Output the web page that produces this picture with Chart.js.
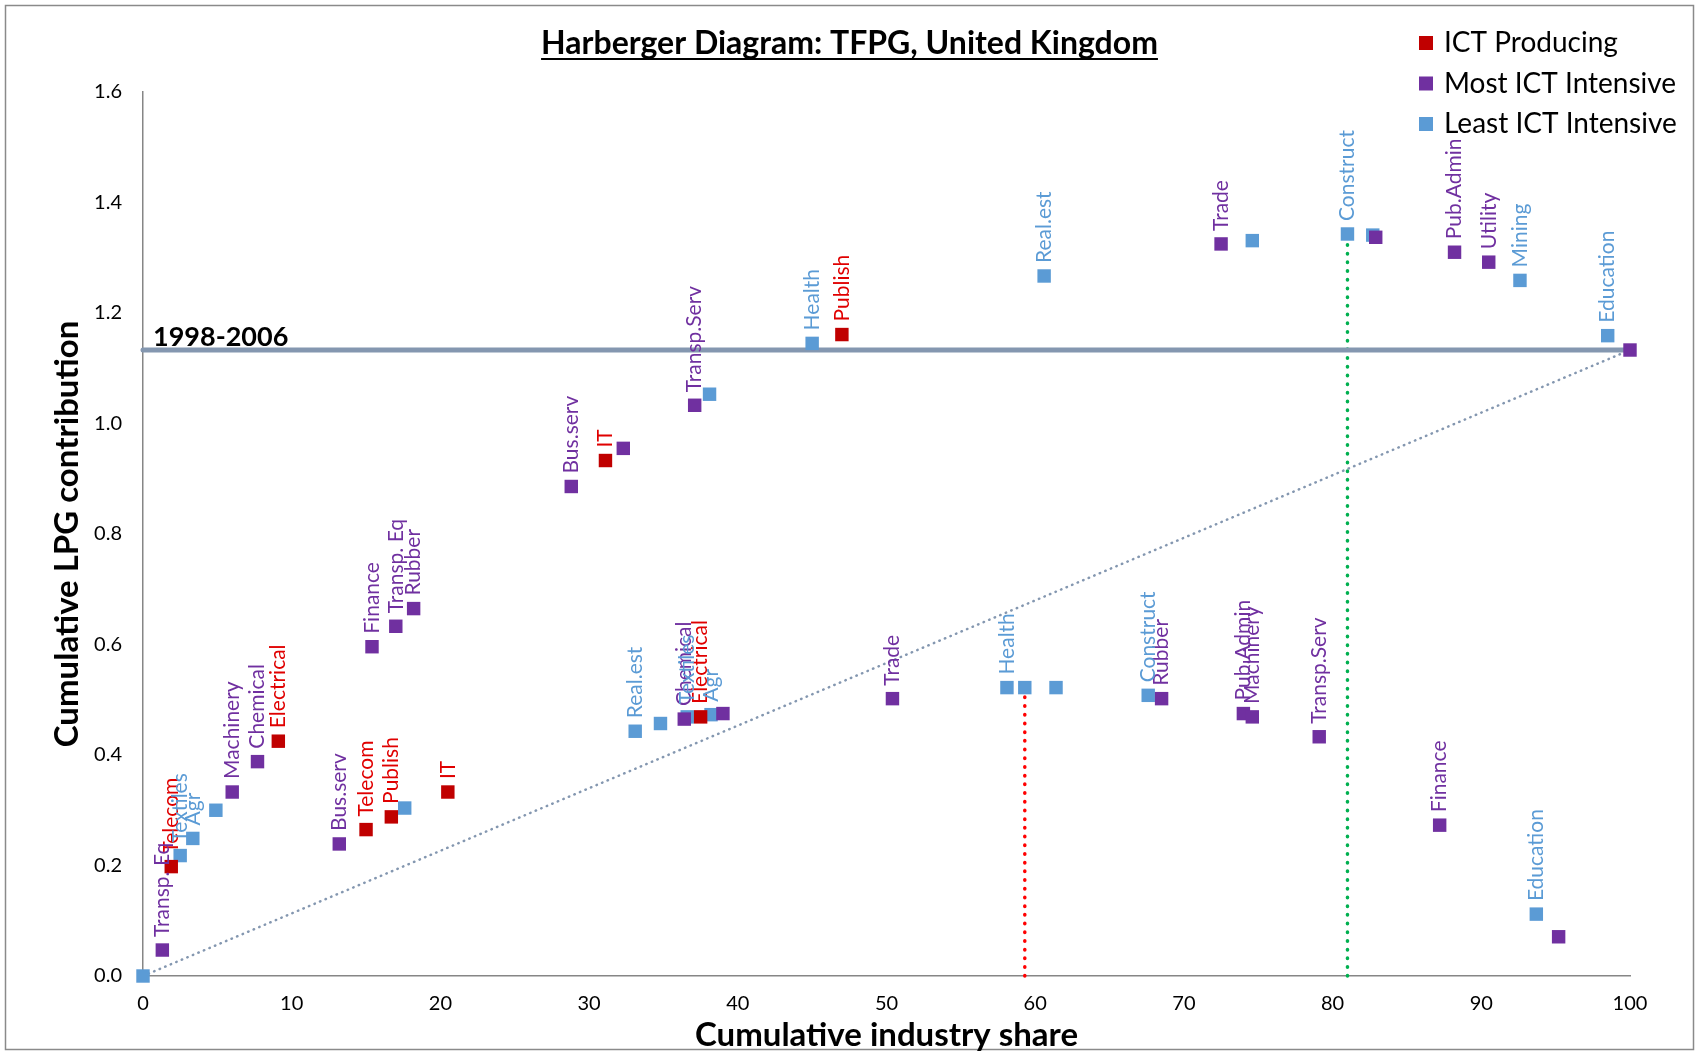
<!DOCTYPE html>
<html>
<head>
<meta charset="utf-8">
<title>Harberger Diagram: TFPG, United Kingdom</title>
<script src="https://cdn.jsdelivr.net/npm/chart.js@4.4.1/dist/chart.umd.min.js"></script>
<style>
  html, body { margin: 0; padding: 0; background: #fff; }
  #wrap { width: 1699px; height: 1055px; }
</style>
</head>
<body>
<div id="wrap"><canvas id="harberger" width="1699" height="1055"></canvas></div>
<script>
// groups: 0 = ICT producing, 1 = most ICT intensive, 2 = least ICT intensive
const groupNames = ["ICT Producing", "Most ICT Intensive", "Least ICT Intensive"];
const groupColors = ["#C00000", "#7030A0", "#5B9BD5"];
const labelColors = ["#E00000", "#7030A0", "#5B9BD5"];

const industries = [
    "", "Transp. Eq", "Telecom", "Textiles", "Agr", "", "Machinery", "Chemical", "Electrical",
    "Bus.serv", "Telecom", "Finance", "Publish", "Transp. Eq", "", "Rubber", "IT",
    "Bus.serv", "IT", "", "Real.est", "", "Chemical", "Textiles", "Electrical", "Agr", "",
    "Transp.Serv", "", "Health", "Publish", "Trade", "Health", "", "", "Real.est",
    "Construct", "Rubber", "Trade", "", "Pub.Admin", "Machinery", "Transp.Serv",
    "Construct", "", "", "Finance", "Pub.Admin", "Utility", "Mining", "Education", "",
    "Education", ""
];
const shares = [
    0, 1.3, 1.9, 2.5, 3.35, 4.9, 6.0, 7.7, 9.1,
    13.2, 15.0, 15.4, 16.7, 17.0, 17.6, 18.2, 20.5,
    28.8, 31.1, 32.3, 33.1, 34.8, 36.4, 36.6, 37.5, 38.2, 39.0,
    37.1, 38.1, 45.0, 47.0, 50.4, 58.1, 59.3, 61.4, 60.6,
    67.6, 68.5, 72.5, 74.6, 74.0, 74.6, 79.1,
    81.0, 82.9, 82.7, 87.2, 88.2, 90.5, 92.6, 93.7, 95.2,
    98.5, 100
];
const contributions = [
    0, 0.047, 0.198, 0.218, 0.249, 0.300, 0.333, 0.388, 0.425,
    0.239, 0.265, 0.596, 0.288, 0.633, 0.304, 0.665, 0.333,
    0.886, 0.933, 0.955, 0.443, 0.457, 0.465, 0.469, 0.469, 0.473, 0.475,
    1.033, 1.053, 1.145, 1.161, 0.502, 0.522, 0.522, 0.522, 1.267,
    0.508, 0.502, 1.325, 1.331, 0.475, 0.469, 0.433,
    1.343, 1.337, 1.341, 0.273, 1.310, 1.292, 1.259, 0.112, 0.071,
    1.159, 1.133
];
const groups = [
    2, 1, 0, 2, 2, 2, 1, 1, 0,
    1, 0, 1, 0, 1, 2, 1, 0,
    1, 0, 1, 2, 2, 1, 2, 0, 2, 1,
    1, 2, 2, 0, 1, 2, 2, 2, 2,
    2, 1, 1, 2, 1, 1, 1,
    2, 1, 2, 1, 1, 1, 2, 2, 1,
    2, 1
];

const xTicks = [0, 10, 20, 30, 40, 50, 60, 70, 80, 90, 100];
const yTicks = [0, 0.2, 0.4, 0.6, 0.8, 1.0, 1.2, 1.4, 1.6];

const totalLPG = 1.133;
const periodLabel = "1998-2006";
const redMarker = [59.3, 0.522];
const greenMarker = [81.0, 1.343];

const FONT = "Lato, 'Open Sans', sans-serif";

function groupPoints(g) {
    const pts = [];
    shares.forEach((s, i) => {
        if (groups[i] === g) pts.push({ x: s, y: contributions[i], name: industries[i] });
    });
    return pts;
}

function lineSet(points, color, width, dash) {
    return {
        type: "line",
        data: points,
        showLine: true,
        borderColor: color,
        borderWidth: width,
        borderDash: dash,
        borderCapStyle: "round",
        pointRadius: 0,
        fill: false,
        clip: false,
        order: 10
    };
}

const datasets = [];
groupNames.forEach((name, g) => {
    datasets.push({
        label: name,
        group: g,
        data: groupPoints(g),
        pointStyle: "rect",
        pointRadius: 9.5,
        backgroundColor: groupColors[g],
        borderColor: groupColors[g],
        borderWidth: 0,
        clip: false,
        order: 1
    });
});
datasets.push(lineSet([{ x: 0, y: totalLPG }, { x: 100, y: totalLPG }], "#8497B0", 5, []));
datasets.push(lineSet([{ x: 0, y: 0 }, { x: 100, y: totalLPG }], "#8497B0", 2.5, [0.5, 5.5]));
datasets.push(lineSet([{ x: redMarker[0], y: 0 }, { x: redMarker[0], y: redMarker[1] }], "#FF0000", 3.5, [0.5, 8.2]));
datasets.push(lineSet([{ x: greenMarker[0], y: 0 }, { x: greenMarker[0], y: greenMarker[1] }], "#00B050", 3.5, [0.5, 8.2]));

// rotated text above each marker
const pointLabels = {
    id: "pointLabels",
    afterDatasetsDraw(chart) {
        const ctx = chart.ctx;
        ctx.save();
        ctx.font = "21px " + FONT;
        ctx.textAlign = "left";
        ctx.textBaseline = "middle";
        chart.data.datasets.forEach((ds, di) => {
            if (ds.group === undefined) return;
            chart.getDatasetMeta(di).data.forEach((el, i) => {
                const name = ds.data[i].name;
                if (!name) return;
                ctx.save();
                ctx.translate(el.x, el.y - 13);
                ctx.rotate(-Math.PI / 2);
                ctx.fillStyle = labelColors[ds.group];
                ctx.fillText(name, 0, 0);
                ctx.restore();
            });
        });
        ctx.restore();
    }
};

// frame, titles, period label and legend
const decorations = {
    id: "decorations",
    afterDraw(chart) {
        const ctx = chart.ctx;
        const xs = chart.scales.x, ys = chart.scales.y;
        const area = chart.chartArea;
        ctx.save();

        ctx.strokeStyle = "#8a8a8a";
        ctx.lineWidth = 1.5;
        ctx.strokeRect(5.5, 5.5, chart.width - 11, chart.height - 11);

        ctx.fillStyle = "#000";
        ctx.font = "bold 32px " + FONT;
        ctx.textAlign = "center";
        ctx.textBaseline = "alphabetic";
        const title = "Harberger Diagram: TFPG, United Kingdom";
        const tx = chart.width / 2;
        ctx.fillText(title, tx, 54);
        const tw = ctx.measureText(title).width;
        ctx.fillRect(tx - tw / 2, 58, tw, 2);

        ctx.font = "bold 33px " + FONT;
        ctx.textBaseline = "middle";
        ctx.fillText("Cumulative industry share", (area.left + area.right) / 2, 1035);
        ctx.save();
        ctx.translate(67, (area.top + area.bottom) / 2);
        ctx.rotate(-Math.PI / 2);
        ctx.fillText("Cumulative LPG contribution", 0, 0);
        ctx.restore();

        ctx.font = "bold 27px " + FONT;
        ctx.textAlign = "left";
        ctx.textBaseline = "alphabetic";
        ctx.fillText(periodLabel, xs.getPixelForValue(0) + 10, ys.getPixelForValue(totalLPG) - 4);

        ctx.font = "28px " + FONT;
        ctx.textBaseline = "middle";
        groupNames.forEach((name, g) => {
            const y = 43 + g * 40.5;
            ctx.fillStyle = groupColors[g];
            ctx.fillRect(1419, y - 7, 14, 14);
            ctx.fillStyle = "#000";
            ctx.fillText(name, 1444, y);
        });
        ctx.restore();
    }
};

const ctx = document.getElementById("harberger").getContext("2d");
new Chart(ctx, {
    type: "scatter",
    data: { datasets: datasets },
    options: {
        responsive: false,
        devicePixelRatio: 1,
        animation: false,
        events: [],
        layout: { padding: { left: 0, right: 69, top: 92, bottom: 0 } },
        plugins: {
            legend: { display: false },
            tooltip: { enabled: false }
        },
        scales: {
            x: {
                type: "linear",
                min: xTicks[0],
                max: xTicks[xTicks.length - 1],
                afterBuildTicks: s => { s.ticks = xTicks.map(v => ({ value: v })); },
                afterFit: s => { s.height = 79; },
                grid: { display: false, drawTicks: false },
                border: { display: true, color: "#868686", width: 1.5 },
                ticks: {
                    padding: 16,
                    color: "#000",
                    font: { family: FONT, size: 20 },
                    maxRotation: 0
                }
            },
            y: {
                type: "linear",
                min: yTicks[0],
                max: yTicks[yTicks.length - 1],
                afterBuildTicks: s => { s.ticks = yTicks.map(v => ({ value: v })); },
                afterFit: s => { s.width = 143; },
                grid: { display: false, drawTicks: false },
                border: { display: true, color: "#868686", width: 1.5 },
                ticks: {
                    padding: 21,
                    color: "#000",
                    font: { family: FONT, size: 20 },
                    callback: v => v.toFixed(1)
                }
            }
        }
    },
    plugins: [pointLabels, decorations]
});
</script>
</body>
</html>
